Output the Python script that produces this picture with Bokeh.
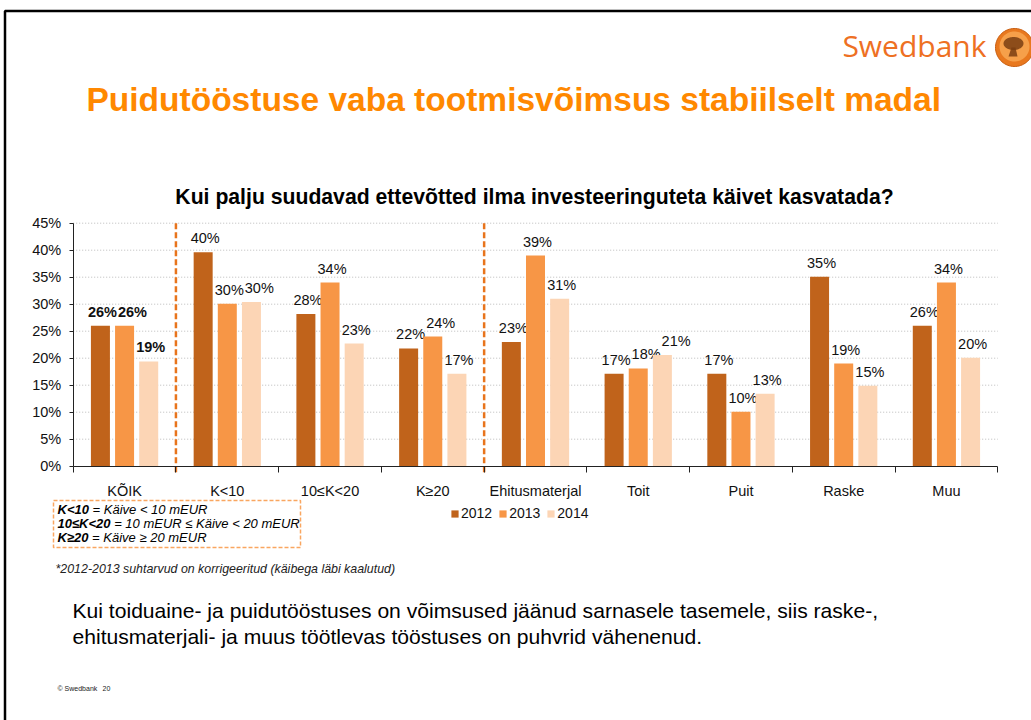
import numpy as np
from bokeh.plotting import figure
from bokeh.models import (Range1d, FixedTicker, PrintfTickFormatter,
                          Label, PolyAnnotation, Legend, LegendItem, ColumnDataSource)
from bokeh.transform import dodge
from bokeh.core.properties import value, field
from bokeh.embed import file_html
from bokeh.resources import INLINE

# ---------------- data ----------------
categories = ["KÕIK", "K<10", "10≤K<20", "K≥20", "Ehitusmaterjal", "Toit", "Puit", "Raske", "Muu"]
years = ["2012", "2013", "2014"]
values_2012 = [26.0, 39.6, 28.2, 21.8, 23.0, 17.1, 17.1, 35.1, 26.0]
values_2013 = [26.0, 30.1, 34.0, 24.0, 39.0, 18.1, 10.1, 19.0, 34.0]
values_2014 = [19.4, 30.4, 22.7, 17.1, 31.0, 20.6, 13.4, 14.9, 20.1]
y_ticks = [0, 5, 10, 15, 20, 25, 30, 35, 40, 45]
bold_category = "KÕIK"
separators_after = ["KÕIK", "K≥20"]
definitions = [("K<10", "= Käive < 10 mEUR"),
               ("10≤K<20", "= 10 mEUR ≤ Käive < 20 mEUR"),
               ("K≥20", "= Käive ≥ 20 mEUR")]
main_title = "Puidutööstuse vaba tootmisvõimsus stabiilselt madal"
chart_title = "Kui palju suudavad ettevõtted ilma investeeringuteta käivet kasvatada?"
footnote = "*2012-2013 suhtarvud on korrigeeritud (käibega läbi kaalutud)"
paragraph = ["Kui toiduaine- ja puidutööstuses on võimsused jäänud sarnasele tasemele, siis raske-,",
             "ehitusmaterjali- ja muus töötlevas tööstuses on puhvrid vähenenud."]
footer = ["© Swedbank", "20"]
brand = "Swedbank"

# ---------------- layout (page pixels) ----------------
W, H = 1031, 720
X0, X1 = 72.7, 997.3        # plot area left/right
Y0, YT = 465.7, 222.7       # plot area bottom (0%) / top (45%)
FONT = "Liberation Sans"
colors = ["#C0631B", "#F79646", "#FCD5B5"]
offsets = [-0.235, 0.0, 0.235]
LBL = 14.5

n = len(categories)
ymax = y_ticks[-1]
ppu = (X1 - X0) / n
ppy = (Y0 - YT) / ymax
x_range = Range1d(-X0 / ppu, n + (W - X1) / ppu)
y_range = Range1d(-(H - Y0) / ppy, ymax + YT / ppy)

p = figure(width=W, height=H, x_range=x_range, y_range=y_range,
           toolbar_location=None, output_backend="svg", min_border=0)
p.outline_line_color = None
p.background_fill_color = "white"
p.border_fill_color = "white"
p.grid.visible = False

# y axis (drawn at x = 0 inside the full-page frame)
ya = p.yaxis[0]
ya.fixed_location = 0
ya.bounds = (0, ymax)
ya.ticker = FixedTicker(ticks=y_ticks, minor_ticks=[])
ya.formatter = PrintfTickFormatter(format="%d%%")
ya.major_label_text_font = FONT
ya.major_label_text_font_size = f"{LBL}px"
ya.major_label_text_color = "#111111"
ya.axis_line_color = "#222222"
ya.major_tick_line_color = "#222222"
ya.major_tick_out = 4
ya.major_tick_in = 0
ya.minor_tick_line_color = None
ya.major_label_standoff = 8

# x axis: labels at category centres, ticks at category boundaries
centres = [i + 0.5 for i in range(n)]
xa = p.xaxis[0]
xa.fixed_location = 0
xa.bounds = (0, n)
xa.ticker = FixedTicker(ticks=centres, minor_ticks=list(range(n + 1)))
xa.major_label_overrides = {c: name for c, name in zip(centres, categories)}
xa.major_tick_line_color = None
xa.major_tick_out = 0
xa.major_tick_in = 0
xa.minor_tick_line_color = "#222222"
xa.minor_tick_out = 6
xa.minor_tick_in = 0
xa.axis_line_color = "#222222"
xa.major_label_standoff = 11
xa.major_label_text_font = FONT
xa.major_label_text_font_size = f"{LBL}px"
xa.major_label_text_color = "#111111"

# dotted horizontal grid lines across the plot area
gsrc = ColumnDataSource(dict(y=y_ticks[1:]))
p.segment(x0=0, x1=n, y0="y", y1="y", source=gsrc, line_color="#BBBBBB", line_dash="1 2",
          line_width=1, level="underlay")

# bars + value labels
series = [values_2012, values_2013, values_2014]
data = dict(x=centres, cat=categories,
            fstyle=["bold" if c == bold_category else "normal" for c in categories])


def tw(s):
    return sum(0.889 if ch == "%" else 0.556 for ch in s) * LBL


texts = [[f"{round(v)}%" for v in vals] for vals in series]
xoffs = [[2.0] * n for _ in series]
for i in range(n):
    for j in range(1, len(series)):
        c_prev = offsets[j - 1] * ppu + xoffs[j - 1][i]
        c_cur = offsets[j] * ppu + xoffs[j][i]
        need = (tw(texts[j - 1][i]) + tw(texts[j][i])) / 2 + 1
        if abs(series[j][i] - series[j - 1][i]) * ppy < 15 and c_cur - c_prev < need:
            xoffs[j][i] += need - (c_cur - c_prev)

for yr, vals, t, xo in zip(years, series, texts, xoffs):
    data["v" + yr] = vals
    data["t" + yr] = t
    data["o" + yr] = xo
src = ColumnDataSource(data)

renderers = []
for yr, col, off in zip(years, colors, offsets):
    r = p.vbar(x=dodge("x", off), top="v" + yr, width=0.185, source=src,
               fill_color=col, line_color=None)
    renderers.append(r)
    p.text(x=dodge("x", off), y="v" + yr, text="t" + yr, source=src,
           text_font=value(FONT), text_font_size=value(f"{LBL}px"), text_font_style=field("fstyle"),
           text_color="#111111", text_align="center", text_baseline="bottom",
           x_offset="o" + yr, y_offset=-6)

# dashed separators
sep = [categories.index(c) + 1 for c in separators_after]
p.segment(x0=sep, x1=sep, y0=[-1.1] * len(sep), y1=[ymax] * len(sep), line_color="#E8741C",
          line_dash="6 3", line_width=2.5)

# legend
legend = Legend(items=[LegendItem(label=value(yr), renderers=[r]) for yr, r in zip(years, renderers)],
                orientation="horizontal", location=(450, H - 521),
                border_line_color=None, background_fill_alpha=0, glyph_width=9, glyph_height=9,
                label_text_font=FONT, label_text_font_size="14px", label_text_color="#111111",
                spacing=6, padding=0, margin=0, label_standoff=2)
p.add_layout(legend)


def label(text, px, py, size, color="#000000", style="normal", align="left", baseline="middle", font=FONT):
    p.add_layout(Label(x=px, y=H - py, x_units="screen", y_units="screen", text=text,
                       text_font=font, text_font_size=size, text_font_style=style,
                       text_color=color, text_align=align, text_baseline=baseline))


def poly(pts, fill_color=None, fill_alpha=1.0, line_color=None, line_alpha=1.0, **kw):
    p.add_layout(PolyAnnotation(xs=[a for a, b in pts], ys=[H - b for a, b in pts],
                                xs_units="screen", ys_units="screen",
                                fill_color=fill_color, fill_alpha=fill_alpha if fill_color else 0,
                                line_color=line_color, line_alpha=line_alpha if line_color else 0,
                                **kw))


# slide frame
poly([(4.5, 10.5), (1300, 10.5), (1300, 900), (4.5, 900)], line_color="#000000", line_width=2.5)

# brand
label(brand, 986, 45, "30px", color="#EE7023", align="right", font="Open Sans")
th = np.linspace(0, 2 * np.pi, 72)
poly(list(zip(1014 + 19 * np.cos(th), 47 + 19 * np.sin(th))), fill_color="#E8781E",
     line_color="#C85E12", line_width=1)
poly(list(zip(1014 + 15 * np.cos(th), 46 + 15 * np.sin(th))), fill_color="#F6A04A")
poly(list(zip(1013 + 10 * np.cos(th), 43 + 6.5 * np.sin(th))), fill_color="#7A3E12", fill_alpha=0.85)
poly([(1011, 47), (1015, 47), (1017, 56), (1008, 56)], fill_color="#7A3E12", fill_alpha=0.85)

# titles
label(main_title, 86, 99, "33.5px", color="#FF8800", style="bold")
label(chart_title, 534, 196, "21.2px", color="#000000", style="bold", align="center")

# definitions box
DEF = 13
poly([(53, 500), (300, 500), (300, 547), (53, 547)], line_color="#F9A660", line_width=1.5,
     line_dash="4 2")
bold_w = {"K": 0.722, "<": 0.584, "1": 0.556, "0": 0.556, "2": 0.556, "≤": 0.549, "≥": 0.549}
for i, (pre, rest) in enumerate(definitions):
    yy = 509 + i * 14
    label(pre, 57, yy, f"{DEF}px", style="bold italic")
    wpre = (sum(bold_w.get(ch, 0.6) for ch in pre) + 0.278) * DEF
    label(rest, 57 + wpre, yy, f"{DEF}px", style="italic")

# footnote, paragraph, footer
label(footnote, 55, 568, "12.4px", color="#222222", style="italic")
for i, line in enumerate(paragraph):
    label(line, 72, 610 + i * 26, "21.1px", color="#000000")
label(footer[0], 57, 688, "7px", color="#222222")
label(footer[1], 102, 688, "7px", color="#222222")

open("out.html", "w").write(file_html(p, INLINE))
